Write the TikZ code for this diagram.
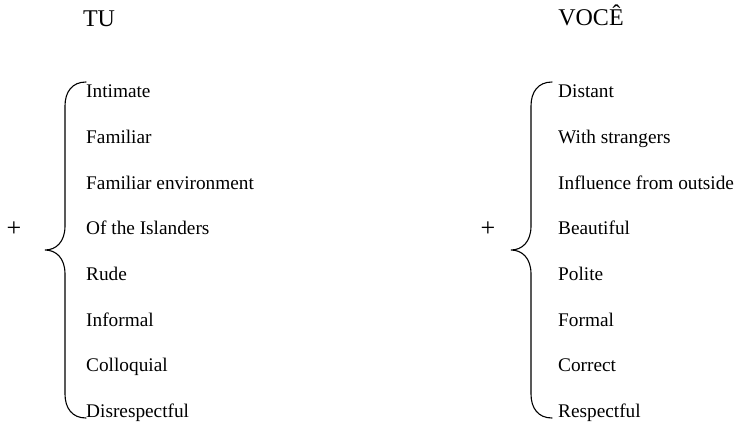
\documentclass[tikz,border=0pt]{standalone}
\usepackage{fontspec}
\setmainfont{Liberation Serif}
\tikzset{
  head/.style={anchor=base, inner sep=0pt, font=\fontsize{24}{28}\selectfont},
  item/.style={anchor=base west, inner sep=0pt, font=\fontsize{19.3}{23}\selectfont},
  plus/.style={inner sep=0pt, font=\fontsize{26}{30}\selectfont},
  brace/.style={line width=1.1pt, line cap=round}
}
\begin{document}
\begin{tikzpicture}[x=1pt, y=-1pt]
\useasboundingbox (0,0) rectangle (738,424);
% headings
\node[head] (tu) at (99,26) {TU};
\node[head] (voce) at (591,25) {VOCÊ};
% left column
\node[item] (t1) at (86,97) {Intimate};
\node[item] (t2) at (86,143) {Familiar};
\node[item] (t3) at (86,189) {Familiar environment};
\node[item] (t4) at (86,234) {Of the Islanders};
\node[item] (t5) at (86,280) {Rude};
\node[item] (t6) at (86,326) {Informal};
\node[item] (t7) at (86,371) {Colloquial};
\node[item] (t8) at (86,417) {Disrespectful};
% right column
\node[item] (v1) at (558,97) {Distant};
\node[item] (v2) at (558,143) {With strangers};
\node[item] (v3) at (558,189) {Influence from outside};
\node[item] (v4) at (558,234) {Beautiful};
\node[item] (v5) at (558,280) {Polite};
\node[item] (v6) at (558,326) {Formal};
\node[item] (v7) at (558,371) {Correct};
\node[item] (v8) at (558,417) {Respectful};
% plus signs
\node[plus] (tplus) at (14,229) {+};
\node[plus] (vplus) at (488,229) {+};
% braces
\draw[brace] (86,82) .. controls (72,82) and (65,92) .. (65,106) -- (65,226)
  .. controls (65,242) and (56,250) .. (45,250)
  .. controls (56,250) and (65,258) .. (65,274) -- (65,394)
  .. controls (65,408) and (72,418) .. (86,418);
\draw[brace, shift={(466,0)}] (86,82) .. controls (72,82) and (65,92) .. (65,106) -- (65,226)
  .. controls (65,242) and (56,250) .. (45,250)
  .. controls (56,250) and (65,258) .. (65,274) -- (65,394)
  .. controls (65,408) and (72,418) .. (86,418);
\end{tikzpicture}
\end{document}
